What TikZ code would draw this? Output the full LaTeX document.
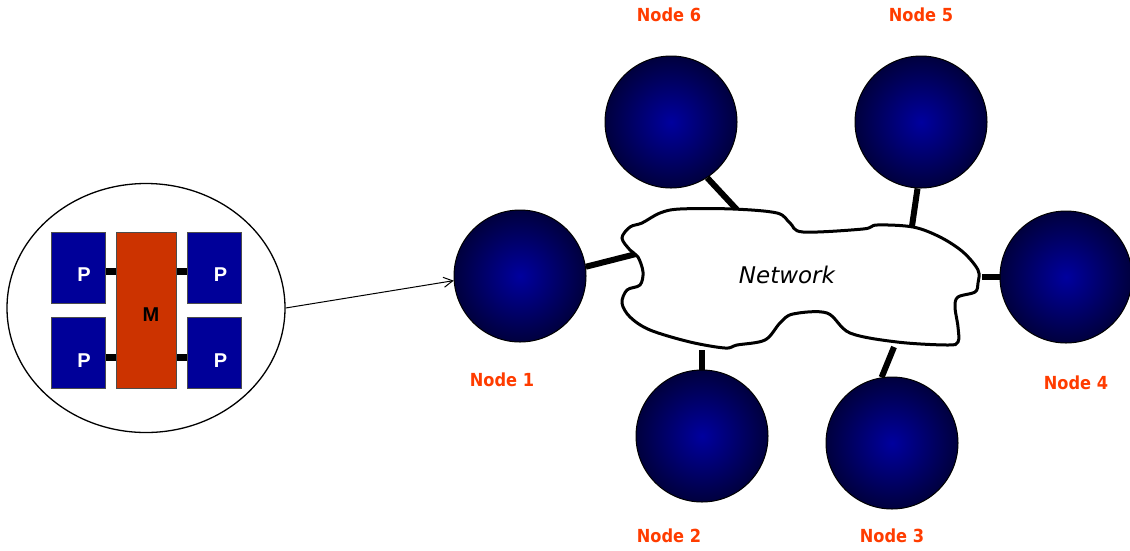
\documentclass[tikz,border=0pt]{standalone}
\usepackage{fontspec}
\setmainfont{DejaVu Sans}
\newfontfamily\labfont{DejaVu Sans Condensed}
\newfontfamily\pfont{Liberation Sans}
\usetikzlibrary{shapes.geometric,arrows.meta}
\definecolor{lab}{RGB}{255,60,0}
\definecolor{pblue}{RGB}{0,0,153}
\definecolor{mred}{RGB}{204,51,0}
\definecolor{ballin}{RGB}{0,0,158}
\definecolor{ballout}{RGB}{0,0,62}
\begin{document}
\begin{tikzpicture}[x=1pt,y=-1pt,
  ball/.style={circle, draw=black, line width=1pt, inner color=ballin, outer color=ballout, minimum size=132pt, inner sep=0pt},
  nlabel/.style={text=lab, font=\labfont\bfseries\fontsize{18}{20}\selectfont, inner sep=0pt},
  link/.style={line width=6pt},
  pbox/.style={rectangle, draw=black!70, line width=1pt, fill=pblue, minimum width=54pt, minimum height=71pt, inner sep=0pt},
  mbox/.style={rectangle, draw=black!70, line width=1pt, fill=mred, minimum width=60pt, minimum height=156pt, inner sep=0pt},
  ptext/.style={text=white, font=\pfont\bfseries\fontsize{20}{22}\selectfont, inner sep=0pt},
  mtext/.style={text=black, font=\pfont\bfseries\fontsize{20}{22}\selectfont, inner sep=0pt},
  bar/.style={line width=7pt},
  cloud/.style={draw=black, fill=white, line width=3pt}
]
\useasboundingbox (0,0) rectangle (1130,550);

% zoomed node
\node[ellipse, draw=black, line width=1.3pt, minimum width=278pt, minimum height=249pt, inner sep=0pt] (zoom) at (146,308) {};
\node[mbox] (m) at (146,310) {};
\node[pbox] (p1) at (78,267.5) {};
\node[pbox] (p2) at (78,353) {};
\node[pbox] (p3) at (214,267.5) {};
\node[pbox] (p4) at (214,353) {};
\draw[bar] ([yshift=-3.5pt]p1.east) -- ([yshift=-3.5pt]p1.east -| m.west);
\draw[bar] ([yshift=-4pt]p2.east) -- ([yshift=-4pt]p2.east -| m.west);
\draw[bar] ([yshift=-3.5pt]p3.west) -- ([yshift=-3.5pt]p3.west -| m.east);
\draw[bar] ([yshift=-4pt]p4.west) -- ([yshift=-4pt]p4.west -| m.east);
\node[ptext] (p1t) at ([shift={(6,7.5)}]p1.center) {P};
\node[ptext] (p2t) at ([shift={(6,7.5)}]p2.center) {P};
\node[ptext] (p3t) at ([shift={(6.5,7.5)}]p3.center) {P};
\node[ptext] (p4t) at ([shift={(6.5,7.5)}]p4.center) {P};
\node[mtext] (mt) at ([shift={(5,5)}]m.center) {M};

% balls
\node[ball] (n1) at (520,276) {};
\node[ball] (n2) at (702,436) {};
\node[ball] (n3) at (892,443) {};
\node[ball] (n4) at (1066,277) {};
\node[ball] (n5) at (921,122) {};
\node[ball] (n6) at (671,122) {};

\draw[line width=1pt, -{Straight Barb[length=9pt,width=10pt]}] (zoom.east) -- (n1.184);

% connection points on the network cloud
\coordinate (c1) at (636,254);
\coordinate (c2) at (702,350);
\coordinate (c3) at (894,347);
\coordinate (c4) at (982,277);
\coordinate (c5) at (911,233);
\coordinate (c6) at (740,213);
\draw[link] (n1.8) -- (c1);
\draw[link] (n2.north) -- (c2);
\draw[link] (n3.99) -- (c3);
\draw[link] (n4.west) -- (c4);
\draw[link] (n5.-93) -- (c5);
\draw[link] (n6.-57) -- (c6);

\draw[cloud] plot[smooth cycle, tension=0.55] coordinates {
 (622,238) (630,227) (642,223) (660,213) (680,209) (733,209) (777,213)
 (790,223) (803,232) (863,229) (877,225) (913,227) (940,237) (963,252)
 (978,270) (978,283) (975,292) (958,297) (955,307) (958,327) (958,342)
 (947,345) (897,342) (850,333) (827,313) (793,314) (780,323) (765,340)
 (737,345) (725,348) (690,342) (650,330) (630,317) (622,303) (627,290)
 (640,285) (643,272) (638,257) (630,250)};
\node[font=\itshape\fontsize{23}{25}\selectfont, inner sep=0pt] (net) at (787,275) {Network};

% labels
\node[nlabel] (l1) at (502,380) {Node 1};
\node[nlabel] (l2) at (669,536) {Node 2};
\node[nlabel] (l3) at (892,536) {Node 3};
\node[nlabel] (l4) at (1076,383) {Node 4};
\node[nlabel] (l5) at (921,15) {Node 5};
\node[nlabel] (l6) at (669,15) {Node 6};
\end{tikzpicture}
\end{document}
